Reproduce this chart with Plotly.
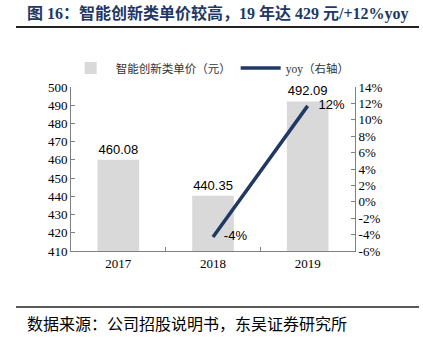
import plotly.graph_objects as go

years = ["2017", "2018", "2019"]
unit_price = [460.08, 440.35, 492.09]
price_labels = ["460.08", "440.35", "492.09"]
yoy = [None, -4.3, 11.7]
yoy_labels = ["", "-4%", "12%"]
left_ticks = [410, 420, 430, 440, 450, 460, 470, 480, 490, 500]
right_ticks = [-6, -4, -2, 0, 2, 4, 6, 8, 10, 12, 14]
right_tick_text = ["-6%", "-4%", "-2%", "0%", "2%", "4%", "6%", "8%", "10%", "12%", "14%"]

title_text = "<b>图 16：智能创新类单价较高，19 年达 429 元/+12%yoy</b>"
source_text = "数据来源：公司招股说明书，东吴证券研究所"

W, H = 423, 348
L, R, T, B = 71, 355, 87, 251

def px_x(px):
    return (px - L) / (R - L)

def px_y(py):
    return (B - py) / (B - T)

NAVY = "#1F3864"
SERIF = "Liberation Serif, Times New Roman, serif"
SANS = "Liberation Sans, Arial, sans-serif"
CJK = "Noto Sans CJK SC, sans-serif"

fig = go.Figure()
fig.add_trace(go.Bar(
    x=years, y=unit_price, name="智能创新类单价（元）",
    marker=dict(color="#D9D9D9", line=dict(width=0)),
    width=0.44,
    text=price_labels, textposition="outside",
    textfont=dict(family=SANS, size=13, color="#000000"),
    cliponaxis=False,
))
fig.add_trace(go.Scatter(
    x=years, y=yoy, name="yoy（右轴）", yaxis="y2",
    mode="lines+text",
    line=dict(color=NAVY, width=3.5),
    text=["   " + t if t else "" for t in yoy_labels],
    textposition="middle right",
    textfont=dict(family=SANS, size=13, color="#000000"),
    cliponaxis=False,
))

axis_common = dict(showgrid=False, zeroline=False, showline=True,
                   linecolor="#808080", linewidth=1, ticks="inside",
                   ticklen=4, tickcolor="#808080",
                   tickfont=dict(family=SERIF, size=13, color="#000000"))

fig.update_layout(
    width=W, height=H,
    margin=dict(l=L, r=W - R, t=T, b=H - B, pad=0),
    plot_bgcolor="white", paper_bgcolor="white",
    showlegend=True,
    legend=dict(orientation="h", x=0.49, xanchor="center", y=px_y(68), yanchor="middle",
                font=dict(family="Liberation Serif, Noto Sans CJK SC, serif", size=11.5, color="#333333"),
                itemwidth=40, tracegroupgap=0, bgcolor="rgba(0,0,0,0)"),
    xaxis=dict(type="category", tickson="boundaries", **axis_common),
    yaxis=dict(range=[410, 500], tickvals=left_ticks, **axis_common),
    yaxis2=dict(range=[-6, 14], overlaying="y", side="right",
                tickvals=right_ticks, ticktext=right_tick_text, **axis_common),
    bargap=0.56,
)

fig.add_annotation(text=title_text, xref="paper", yref="paper",
                   x=px_x(218), y=px_y(13), xanchor="center", yanchor="middle",
                   showarrow=False,
                   font=dict(family="Liberation Serif, Noto Sans CJK SC, serif", size=16, color=NAVY))
fig.add_annotation(text=source_text, xref="paper", yref="paper",
                   x=px_x(25), y=px_y(323), xanchor="left", yanchor="middle",
                   showarrow=False,
                   font=dict(family=CJK, size=16, color="#000000"))
fig.add_shape(type="line", xref="paper", yref="paper",
              x0=px_x(16), x1=px_x(419), y0=px_y(27), y1=px_y(27),
              line=dict(color="#222222", width=2))
fig.add_shape(type="line", xref="paper", yref="paper",
              x0=px_x(16), x1=px_x(419), y0=px_y(307), y1=px_y(307),
              line=dict(color="#222222", width=1.5))

fig.write_html("out.html")
